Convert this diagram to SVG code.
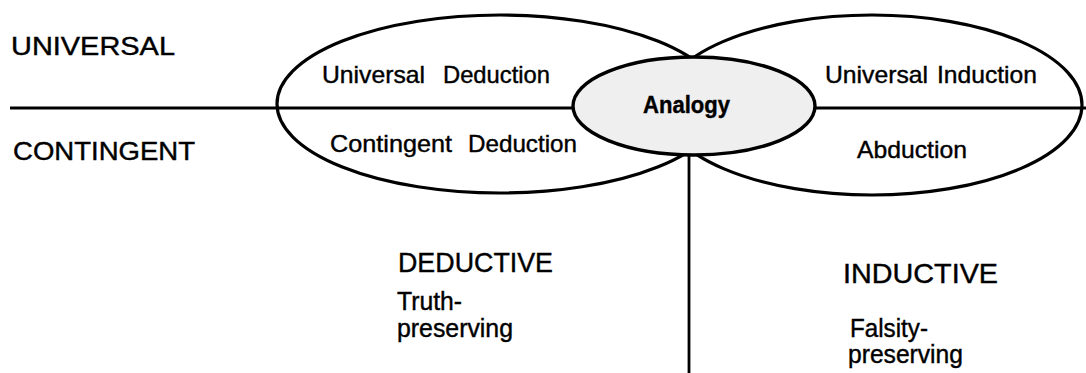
<svg xmlns="http://www.w3.org/2000/svg" width="1086" height="373" viewBox="0 0 1086 373">
<style>
.bg{fill:#ffffff}
.ln{stroke:#000;stroke-width:2.8;fill:none}
.leaf{stroke:#000;stroke-width:3.2;fill:none}
.ana{stroke:#000;stroke-width:3.4;fill:#efefef}
text{font-family:"Liberation Sans",Arial,sans-serif;fill:#000;stroke:#000;stroke-width:0.4}
.cap{font-size:25px}
.in{font-size:24px}
.big{font-size:28px}
.sub{font-size:25px}
.bold{font-size:24px;font-weight:bold}
</style>
<rect class="bg" x="0" y="0" width="1086" height="373"/>
<g id="connectors">
<line class="ln" x1="10" y1="108" x2="1086" y2="108"/>
<line class="ln" x1="689" y1="150" x2="689" y2="373"/>
</g>
<g id="deduction">
<ellipse class="leaf" cx="500" cy="104" rx="223" ry="89"/>
<text class="in" y="83"><tspan x="322" textLength="103" lengthAdjust="spacingAndGlyphs">Universal</tspan> <tspan x="443" textLength="107" lengthAdjust="spacingAndGlyphs">Deduction</tspan></text>
<text class="in" y="152"><tspan x="330" textLength="122" lengthAdjust="spacingAndGlyphs">Contingent</tspan> <tspan x="468" textLength="109" lengthAdjust="spacingAndGlyphs">Deduction</tspan></text>
</g>
<g id="induction">
<ellipse class="leaf" cx="872" cy="105" rx="210" ry="90"/>
<text class="in" y="83"><tspan x="825" textLength="103" lengthAdjust="spacingAndGlyphs">Universal</tspan> <tspan x="937" textLength="100" lengthAdjust="spacingAndGlyphs">Induction</tspan></text>
<text class="in" x="857" y="158" textLength="110" lengthAdjust="spacingAndGlyphs">Abduction</text>
</g>
<g id="analogy">
<ellipse class="ana" cx="694" cy="106" rx="121" ry="49"/>
<text class="bold" x="643" y="113" textLength="87" lengthAdjust="spacingAndGlyphs">Analogy</text>
</g>
<g id="universal">
<text class="cap" x="11" y="55" textLength="164" lengthAdjust="spacingAndGlyphs">UNIVERSAL</text>
</g>
<g id="contingent">
<text class="cap" x="13" y="160" textLength="182" lengthAdjust="spacingAndGlyphs">CONTINGENT</text>
</g>
<g id="deductive">
<text class="big" x="398" y="272" textLength="155" lengthAdjust="spacingAndGlyphs">DEDUCTIVE</text>
<text class="sub" x="397" y="310" textLength="65" lengthAdjust="spacingAndGlyphs">Truth-</text>
<text class="sub" x="397" y="337" textLength="116" lengthAdjust="spacingAndGlyphs">preserving</text>
</g>
<g id="inductive">
<text class="big" x="843" y="283" textLength="155" lengthAdjust="spacingAndGlyphs">INDUCTIVE</text>
<text class="sub" x="850" y="337" textLength="78" lengthAdjust="spacingAndGlyphs">Falsity-</text>
<text class="sub" x="848" y="363" textLength="115" lengthAdjust="spacingAndGlyphs">preserving</text>
</g>
</svg>
